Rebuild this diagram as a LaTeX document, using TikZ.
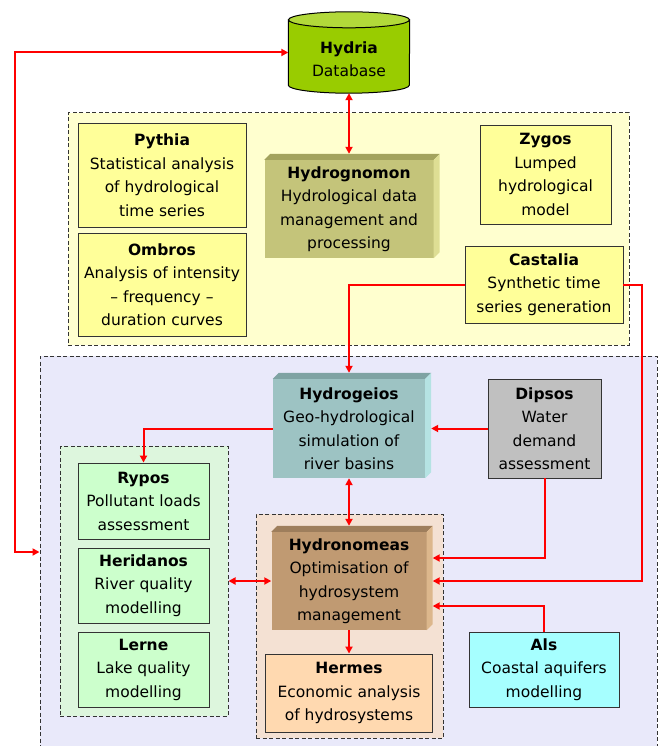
\documentclass[tikz,border=0pt]{standalone}
\usepackage{fontspec}
\setmainfont{DejaVu Sans}
\usetikzlibrary{arrows.meta}

\definecolor{hydriagreen}{HTML}{99CC00}
\definecolor{hydriatop}{HTML}{B2D93A}
\definecolor{yellowbg}{HTML}{FFFFCF}
\definecolor{bluebg}{HTML}{E9E9FA}
\definecolor{greenbg}{HTML}{DDF6DD}
\definecolor{peachbg}{HTML}{F4E1D3}
\definecolor{yellowbox}{HTML}{FFFF99}
\definecolor{greenbox}{HTML}{CCFFCC}
\definecolor{graybox}{HTML}{C0C0C0}
\definecolor{peachbox}{HTML}{FFD9B0}
\definecolor{cyanbox}{HTML}{A6FFFF}
\definecolor{olivefront}{HTML}{C4C47A}
\definecolor{olivetop}{HTML}{A3A35E}
\definecolor{oliveside}{HTML}{DEDE94}
\definecolor{tealfront}{HTML}{9DC3C3}
\definecolor{tealtop}{HTML}{7FA3A3}
\definecolor{tealside}{HTML}{B5E3E3}
\definecolor{brownfront}{HTML}{C09A72}
\definecolor{browntop}{HTML}{9E7E5C}
\definecolor{brownside}{HTML}{DCB78C}

\tikzset{
  modbox/.style={draw=black!80, line width=0.9pt, align=center, inner sep=2pt},
  cubebox/.style={align=center, inner sep=2pt},
  groupbox/.style={draw=black!80, dash pattern=on 4pt off 2.5pt, line width=1pt},
  link/.style={draw=red, line width=2pt, >={Triangle[length=7pt,width=7pt]}},
}
% top and side faces of a bevelled box
\newcommand{\cubefaces}[3]{%
  \fill[#2] (#1.north west) -- ++(6pt,6pt) -- ([shift={(6pt,6pt)}]#1.north east) -- (#1.north east) -- cycle;
  \fill[#3] (#1.north east) -- ++(6pt,6pt) -- ([shift={(6pt,6pt)}]#1.south east) -- (#1.south east) -- cycle;}

\begin{document}
\begin{tikzpicture}[x=1pt, y=-1pt, font=\fontsize{15.5}{23.5}\selectfont]
  \useasboundingbox (0,0) rectangle (661,746);

  % groups
  \node[groupbox, fill=yellowbg, minimum width=561pt, minimum height=232pt] (hydrogroup) at (348.5,229) {};
  \node[groupbox, fill=bluebg, minimum width=617pt, minimum height=392pt] (simgroup) at (348.5,552) {};
  \node[groupbox, fill=greenbg, minimum width=168pt, minimum height=270pt] (qualgroup) at (144,581) {};
  \node[groupbox, fill=peachbg, minimum width=187pt, minimum height=224pt] (mgmtgroup) at (349.5,626) {};

  % database
  \node[minimum width=121pt, minimum height=81pt, inner sep=0pt] (hydria) at (349,52.5) {};
  \filldraw[fill=hydriagreen, draw=black, line width=1pt] ([yshift=-8pt]hydria.north west) -- ([yshift=8pt]hydria.south west)
    arc[start angle=180, end angle=360, x radius=60.5pt, y radius=8pt] -- ([yshift=-8pt]hydria.north east) -- cycle;
  \filldraw[fill=hydriatop, draw=black, line width=1pt] ([yshift=-8pt]hydria.north) ellipse [x radius=60.5pt, y radius=8pt];
  \node[align=center] (hydrialabel) at (349,59) {\textbf{Hydria}\\Database};

  % hydrological tools
  \node[modbox, fill=yellowbox, minimum width=168pt, minimum height=104pt] (pythia) at (162,175) {\textbf{Pythia}\\Statistical analysis\\of hydrological\\time series};
  \node[modbox, fill=yellowbox, minimum width=168pt, minimum height=103pt] (ombros) at (162,284.5) {\textbf{Ombros}\\Analysis of intensity\\-- frequency --\\duration curves};
  \node[cubebox, fill=olivefront, minimum width=169pt, minimum height=98pt] (hydrognomon) at (349,209) {\textbf{Hydrognomon}\\Hydrological data\\management and\\processing};
  \cubefaces{hydrognomon}{olivetop}{oliveside}
  \node[modbox, fill=yellowbox, minimum width=131pt, minimum height=99pt] (zygos) at (545.5,174.5) {\textbf{Zygos}\\Lumped\\hydrological\\model};
  \node[modbox, fill=yellowbox, minimum width=158pt, minimum height=77pt] (castalia) at (544,284.5) {\textbf{Castalia}\\Synthetic time\\series generation};

  % simulation tools
  \node[cubebox, fill=tealfront, minimum width=152pt, minimum height=99pt] (hydrogeios) at (349,428.5) {\textbf{Hydrogeios}\\Geo-hydrological\\simulation of\\river basins};
  \cubefaces{hydrogeios}{tealtop}{tealside}
  \node[modbox, fill=graybox, minimum width=113pt, minimum height=99pt] (dipsos) at (544.5,428.5) {\textbf{Dipsos}\\Water\\demand\\assessment};
  \node[modbox, fill=greenbox, minimum width=131pt, minimum height=76pt] (rypos) at (143.5,501) {\textbf{Rypos}\\Pollutant loads\\assessment};
  \node[modbox, fill=greenbox, minimum width=131pt, minimum height=75pt] (heridanos) at (143.5,585.5) {\textbf{Heridanos}\\River quality\\modelling};
  \node[modbox, fill=greenbox, minimum width=131pt, minimum height=75pt] (lerne) at (143.5,669.5) {\textbf{Lerne}\\Lake quality\\modelling};
  \node[cubebox, fill=brownfront, minimum width=155pt, minimum height=98pt] (hydronomeas) at (349,581) {\textbf{Hydronomeas}\\Optimisation of\\hydrosystem\\management};
  \cubefaces{hydronomeas}{browntop}{brownside}
  \node[modbox, fill=peachbox, minimum width=167pt, minimum height=78pt] (hermes) at (349,693) {\textbf{Hermes}\\Economic analysis\\of hydrosystems};
  \node[modbox, fill=cyanbox, minimum width=150pt, minimum height=75pt] (als) at (544,669.5) {\textbf{Als}\\Coastal aquifers\\modelling};

  % connections
  \draw[link, <->] (hydria.west) -- ++(-273,0) |- (simgroup.west);
  \draw[link, <->] (hydria.south) -- ([yshift=6pt]hydrognomon.north);
  \draw[link, ->] (castalia.west) -| ([yshift=6pt]hydrogeios.north);
  \draw[link, ->] (castalia.east) -- ++(19,0) |- ([xshift=6pt]hydronomeas.east);
  \draw[link, ->] (dipsos.west) -- ([xshift=6pt]hydrogeios.east);
  \draw[link, ->] (hydrogeios.west) -| (rypos.north);
  \draw[link, <->] (hydrogeios.south) -- ([yshift=6pt]hydronomeas.north);
  \draw[link, ->] (dipsos.south) |- ([shift={(6pt,23pt)}]hydronomeas.east);
  \draw[link, ->] (als.north) |- ([shift={(6pt,-25pt)}]hydronomeas.east);
  \draw[link, <->] (qualgroup.east) -- (hydronomeas.west);
  \draw[link, ->] (hydronomeas.south) -- (hermes.north);
\end{tikzpicture}
\end{document}
